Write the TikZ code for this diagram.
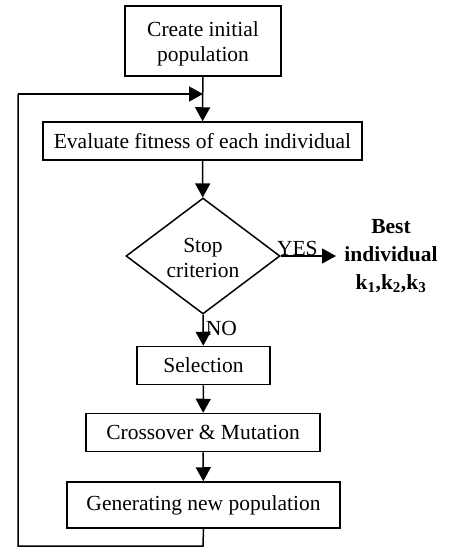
\documentclass[tikz,border=0pt]{standalone}
\usepackage{fontspec}
\setmainfont{Liberation Serif}
\usetikzlibrary{arrows.meta,shapes.geometric}
\begin{document}
\begin{tikzpicture}[x=1pt,y=-1pt,
  box/.style={draw,line width=1.5pt,minimum height=38pt,inner sep=2pt,align=center,font=\fontsize{21.5}{25}\selectfont},
  arr/.style={line width=1.5pt,-{Triangle[width=15pt,length=14pt]}},
  ln/.style={line width=1.5pt},
  lbl/.style={font=\fontsize{21.5}{25}\selectfont}]
\useasboundingbox (0,0) rectangle (449,548);
\node[box,minimum width=156pt,minimum height=70pt] (create) at (203,41) {};
\node[lbl,align=center] (createtxt) at (203,44) {Create initial\\population};
\node[box,minimum width=319pt] (eval) at (202.5,141) {Evaluate fitness of each individual};
\node[draw,diamond,line width=1.5pt,minimum width=154pt,minimum height=116pt,inner sep=0pt,aspect=1.33] (stop) at (203,256) {};
\node[lbl,align=center] (stoptxt) at (203,258) {Stop\\criterion};
\node[box,minimum width=133pt] (sel) at (203.5,365.5) {Selection};
\node[box,minimum width=234pt] (cross) at (203,432.5) {Crossover \& Mutation};
\node[box,minimum width=273pt,minimum height=46pt] (gen) at (203.5,505) {Generating new population};
\node[align=center,font=\bfseries\fontsize{21.5}{28}\selectfont] (best) at (391,256) {Best\\individual\\k\textsubscript{1},k\textsubscript{2},k\textsubscript{3}};
\coordinate (yesend) at (336,256);
\coordinate (join) at (203,94);
\coordinate (bl) at (18,546);
\coordinate (tl) at (18,94);
\coordinate (gb) at (203,546);
\draw[arr] (create) -- (eval);
\draw[arr] (eval) -- (stop);
\draw[arr] (stop.east) -- node[lbl,above,pos=0.3,inner sep=0pt] {YES} (yesend);
\draw[arr] (stop.south) -- node[lbl,right,pos=0.45,inner sep=2pt] {NO} (sel);
\draw[arr] (sel) -- (cross);
\draw[arr] (cross) -- (gen);
\draw[ln,line join=miter] (gen.south) -- (gb) -- (bl) -- (tl);
\draw[arr] (tl) -- (join);
\end{tikzpicture}
\end{document}
